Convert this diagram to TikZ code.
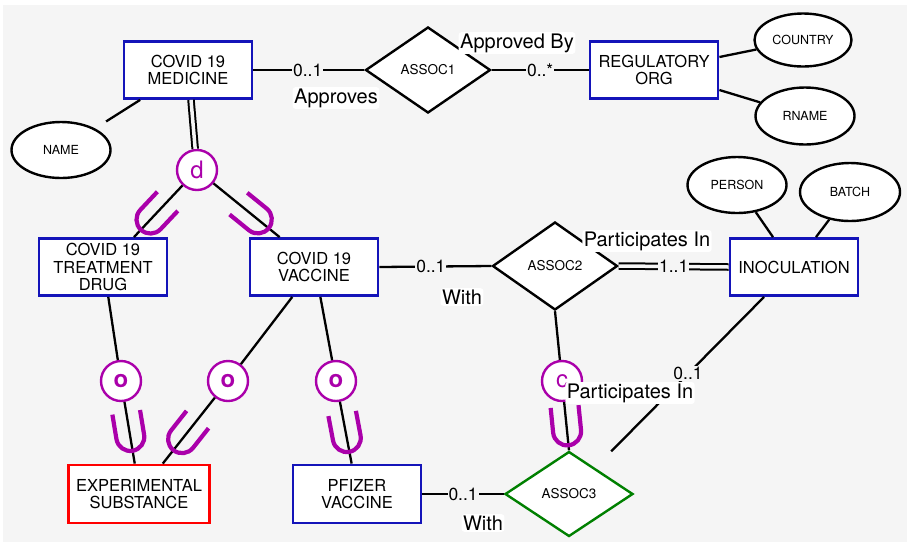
\documentclass[tikz,border=0pt]{standalone}
\usepackage{fontspec}
\setmainfont{TeX Gyre Heros}
\usetikzlibrary{shapes.geometric,calc,decorations.markings}

\definecolor{pagebg}{RGB}{245,245,245}
\definecolor{entblue}{RGB}{20,20,185}
\definecolor{specpurple}{RGB}{170,0,170}
\definecolor{relgreen}{RGB}{0,128,0}

\begin{document}
\begin{tikzpicture}[x=1pt,y=-1pt]
\tikzset{entity/.style = {draw=entblue, line width=2.8pt, fill=white, minimum width=128pt, minimum height=57pt, inner sep=0pt, align=center, font=\fontsize{16.5}{17.7}\selectfont},
  attr/.style = {draw, ellipse, line width=2.4pt, fill=white, minimum width=99pt, minimum height=56pt, inner sep=0pt, font=\fontsize{12.5}{14}\selectfont},
  rel/.style = {draw, diamond, line width=2.4pt, fill=white, minimum width=125pt, minimum height=86pt, inner sep=0pt, font=\fontsize{13.5}{15}\selectfont},
  spec/.style = {draw=specpurple, text=specpurple, circle, line width=2.4pt, fill=white, minimum size=40pt, inner sep=0pt, font=\fontsize{24}{24}\selectfont},
  conn/.style = {line width=2.3pt},
  twoline/.style = {line width=2pt, double=pagebg, double distance=3.5pt},
  card/.style = {fill=pagebg, inner sep=1pt, font=\fontsize{17.5}{18}\selectfont},
  lbl/.style = {fill=white, rounded corners=3pt, inner sep=1.5pt, font=\fontsize{20}{22}\selectfont},
  subsetU/.style = {postaction={decorate}, decoration={markings, mark=at position #1 with {\draw[specpurple, line width=4.2pt] (-25pt,14pt) -- (0pt,14pt) arc[start angle=90, end angle=-90, radius=14pt] -- (-25pt,-14pt);}}}}
\useasboundingbox (0,0) rectangle (907,542);
\fill[pagebg] (3,5) rectangle (907,542);

\node[entity] (med) at (188,70) {COVID 19\\MEDICINE};
\node[entity] (reg) at (654,70) {REGULATORY\\ORG};
\node[entity] (treat) at (103,267) {COVID 19\\TREATMENT\\DRUG};
\node[entity] (vacc) at (314,267) {COVID 19\\VACCINE};
\node[entity] (inoc) at (794,267) {INOCULATION};
\node[entity, draw=red, minimum width=141pt, minimum height=58pt] (expsub) at (139,494) {EXPERIMENTAL\\SUBSTANCE};
\node[entity, minimum height=58pt] (pfizer) at (357,494) {PFIZER\\VACCINE};

\node[attr] (name) at (61,150) {NAME};
\node[attr, minimum width=97pt, minimum height=53pt] (country) at (803,40) {COUNTRY};
\node[attr, minimum height=57pt] (rname) at (805,116) {RNAME};
\node[attr] (person) at (737,185) {PERSON};
\node[attr, minimum width=100pt, minimum height=58pt] (batch) at (850,192) {BATCH};

\node[rel] (a1) at (428,70) {ASSOC1};
\node[rel, minimum height=88pt] (a2) at (555,266) {ASSOC2};
\node[rel, draw=relgreen, minimum width=128pt, minimum height=85pt] (a3) at (569,494) {ASSOC3};

\node[spec] (dcirc) at (197,170) {d};
\node[spec, font=\fontsize{24}{24}\selectfont\bfseries] (o1) at (121,381) {o};
\node[spec, font=\fontsize{24}{24}\selectfont\bfseries] (o2) at (228,381) {o};
\node[spec, font=\fontsize{24}{24}\selectfont\bfseries] (o3) at (336,381) {o};
\node[spec] (ccirc) at (562,381) {c};

\draw[conn] (med.east) -- node[card, pos=.49] {0..1} (a1.west);
\draw[conn] (a1.east) -- node[card] {0..*} (reg.west);
\draw[conn, shorten >=13pt] (med.212) -- (name);
\draw[conn] ([yshift=13pt]reg.east) -- (country);
\draw[conn] ([yshift=-20pt]reg.east) -- (rname);
\draw[conn] ([xshift=-21pt]inoc.north) -- (person);
\draw[conn] ([xshift=22pt]inoc.north) -- (batch);
\draw[conn] (vacc.east) -- node[card, pos=.46] {0..1} (a2.west);
\draw[twoline] (a2.east) -- node[card] {1..1} (inoc.west);
\draw[conn] (pfizer.east) -- node[card] {0..1} (a3.west);
\draw[conn, shorten >=23pt] (inoc.225) -- node[card, pos=.45] {0..1} (a3);

\draw[twoline] ([xshift=3pt]med.south) -- (dcirc);
\draw[conn, subsetU=-24pt] (dcirc) -- (treat.44);
\draw[conn, subsetU=-28pt] (dcirc) -- (vacc.139);
\draw[conn] (treat.280) -- (o1);
\draw[conn, subsetU=-27pt] (o1) -- (expsub.98);
\draw[conn] (vacc.234) -- (o2);
\draw[conn, subsetU=-31pt] (o2) -- (expsub.52);
\draw[conn] (vacc.282) -- (o3);
\draw[conn, subsetU=-26pt] (o3) -- (pfizer.100);
\draw[conn] (a2.south) -- (ccirc);
\draw[conn, subsetU=-19pt] (ccirc) -- (a3.north);

\node[lbl] (approves) at (336,98) {Approves};
\node[lbl] (approvedby) at (517,43) {Approved By};
\node[lbl] (with1) at (462,297) {With};
\node[lbl] (partin1) at (647,241) {Participates In};
\node[lbl] (with2) at (483,523) {With};
\node[lbl] (partin2) at (630,393) {Participates In};
\end{tikzpicture}
\end{document}
